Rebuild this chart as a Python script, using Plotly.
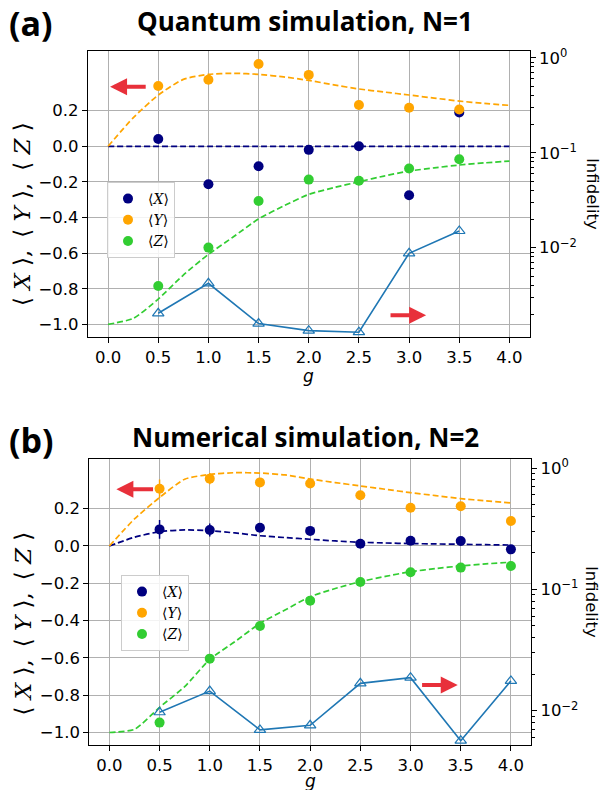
import plotly.graph_objects as go

# ---------------- data ----------------
g_theory = [0.0, 0.25, 0.5, 0.75, 1.0, 1.25, 1.5, 1.75, 2.0, 2.25, 2.5, 2.75, 3.0, 3.25, 3.5, 3.75, 4.0]

# panel (a): quantum simulation, N=1
g_a = [0.5, 1.0, 1.5, 2.0, 2.5, 3.0, 3.5]
X_a = [0.041, -0.213, -0.112, -0.020, 0.0, -0.275, 0.190]
Y_a = [0.339, 0.374, 0.462, 0.401, 0.232, 0.217, 0.207]
Z_a = [-0.785, -0.569, -0.307, -0.187, -0.193, -0.125, -0.073]
Inf_a = [0.00204, 0.00422, 0.00159, 0.00134, 0.00129, 0.00873, 0.0150]
Xth_a = [0.0, 0.0, 0.0, 0.0, 0.0, 0.0, 0.0, 0.0, 0.0, 0.0, 0.0, 0.0, 0.0, 0.0, 0.0, 0.0, 0.0]
Yth_a = [0.0, 0.16, 0.288, 0.376, 0.404, 0.41, 0.404, 0.39, 0.37, 0.345, 0.322, 0.305, 0.288, 0.271, 0.254, 0.241, 0.230]
Zth_a = [-1.0, -0.967, -0.858, -0.723, -0.607, -0.508, -0.408, -0.335, -0.270, -0.232, -0.199, -0.167,
         -0.139, -0.121, -0.105, -0.093, -0.083]

# panel (b): numerical simulation, N=2
g_b = [0.5, 1.0, 1.5, 2.0, 2.5, 3.0, 3.5, 4.0]
X_b = [0.089, 0.086, 0.098, 0.081, 0.012, 0.028, 0.027, -0.018]
Y_b = [0.307, 0.361, 0.341, 0.335, 0.272, 0.205, 0.213, 0.134]
Z_b = [-0.947, -0.604, -0.429, -0.293, -0.193, -0.141, -0.116, -0.107]
Xerr_b = [0.05, 0.035, 0.02, 0.015, 0.01, 0.01, 0.01, 0.01]
Yerr_b = [0.05, 0.03, 0.015, 0.015, 0.01, 0.01, 0.01, 0.01]
Zerr_b = [0.012, 0.01, 0.01, 0.01, 0.01, 0.01, 0.01, 0.01]
Inf_b = [0.0097, 0.0145, 0.00694, 0.00757, 0.0168, 0.0187, 0.00566, 0.0176]
Xth_b = [0.0, 0.047, 0.077, 0.086, 0.082, 0.07, 0.055, 0.045, 0.036, 0.027, 0.020, 0.016, 0.013, 0.011,
         0.009, 0.007, 0.005]
Yth_b = [0.0, 0.145, 0.26, 0.358, 0.384, 0.393, 0.391, 0.381, 0.359, 0.340, 0.322, 0.304, 0.286, 0.270,
         0.254, 0.242, 0.231]
Zth_b = [-1.0, -0.983, -0.865, -0.754, -0.608, -0.513, -0.415, -0.343, -0.272, -0.228, -0.191, -0.163,
         -0.138, -0.121, -0.107, -0.096, -0.087]

left_ticks = [-1.0, -0.8, -0.6, -0.4, -0.2, 0.0, 0.2]
left_ticktext = ["\u22121.0", "\u22120.8", "\u22120.6", "\u22120.4", "\u22120.2", "0.0", "0.2"]
x_ticks = [0.0, 0.5, 1.0, 1.5, 2.0, 2.5, 3.0, 3.5, 4.0]
log_major = [1.0, 0.1, 0.01]
log_major_text = ["10<sup>0</sup>", "10<sup>\u22121</sup>", "10<sup>\u22122</sup>"]
log_minor = [k * 10.0 ** e for e in (-3, -2, -1) for k in range(2, 10)]

names = ["\u27e8<i>X</i>\u27e9", "\u27e8<i>Y</i>\u27e9", "\u27e8<i>Z</i>\u27e9"]
colors = ["#000080", "#FFA500", "#32CD32"]
blue = "#1f77b4"
red = "#E8303A"

W, H = 606, 790
TICKFONT = dict(family="DejaVu Sans", size=16.5, color="black")

fig = go.Figure()


def add_panel(xax, yax, yax2, g_pts, pts, errs, g_th, ths, inf, legend):
    xa = "x" if xax == 1 else f"x{xax}"
    ya = "y" if yax == 1 else f"y{yax}"
    ya2 = f"y{yax2}"
    for th, c in zip(ths, colors):
        fig.add_trace(go.Scatter(x=g_th, y=th, mode="lines", xaxis=xa, yaxis=ya,
                                 line=dict(color=c, width=1.7, dash="6px,3px", shape="spline", smoothing=0.6),
                                 showlegend=False, hoverinfo="skip"))
    for i, (p, c, n) in enumerate(zip(pts, colors, names)):
        err = None
        if errs is not None:
            err = dict(type="data", array=errs[i], color=c, thickness=1.5, width=0)
        fig.add_trace(go.Scatter(x=g_pts, y=p, mode="markers", xaxis=xa, yaxis=ya, name=n,
                                 marker=dict(color=c, size=10), error_y=err,
                                 legend=legend, showlegend=True))
    fig.add_trace(go.Scatter(x=g_pts, y=inf, mode="lines+markers", xaxis=xa, yaxis=ya2,
                             line=dict(color=blue, width=1.6),
                             marker=dict(symbol="triangle-up-open", size=10, color=blue, line=dict(width=1.2)),
                             showlegend=False))


add_panel(1, 1, 2, g_a, [X_a, Y_a, Z_a], None, g_theory, [Xth_a, Yth_a, Zth_a], Inf_a, "legend")
add_panel(2, 3, 4, g_b, [X_b, Y_b, Z_b], [Xerr_b, Yerr_b, Zerr_b], g_theory, [Xth_b, Yth_b, Zth_b], Inf_b, "legend2")

xdom_a = [88 / W, 529.5 / W]
xdom_b = [89.3 / W, 531 / W]
ydom_a = [1 - 337 / H, 1 - 50.7 / H]
ydom_b = [1 - 745 / H, 1 - 458.7 / H]

common_x = dict(range=[-0.2, 4.2], tickvals=x_ticks, ticktext=[f"{v:.1f}" for v in x_ticks],
                showgrid=True, gridcolor="#b0b0b0", gridwidth=0.8, zeroline=False,
                showline=True, linecolor="black", linewidth=1.2, mirror=True, automargin=False,
                ticks="outside", ticklen=5, tickcolor="black", tickfont=TICKFONT)
common_yl = dict(tickvals=left_ticks, ticktext=left_ticktext, automargin=False,
                 showgrid=True, gridcolor="#b0b0b0", gridwidth=0.8, zeroline=False,
                 showline=True, linecolor="black", linewidth=1.2,
                 ticks="outside", ticklen=5, tickcolor="black", tickfont=TICKFONT)
common_yr = dict(type="log", side="right", tickvals=log_major, ticktext=log_major_text, automargin=False,
                 showgrid=False, zeroline=False, showline=True, linecolor="black", linewidth=1.2,
                 ticks="outside", ticklen=5, tickcolor="black", tickfont=TICKFONT,
                 minor=dict(tickvals=log_minor, ticks="outside", ticklen=3, tickcolor="black", showgrid=False))

LEGFONT = dict(family="DejaVu Serif", size=14, color="black")
fig.update_layout(
    width=W, height=H, margin=dict(l=0, r=0, t=0, b=0),
    paper_bgcolor="white", plot_bgcolor="white",
    xaxis=dict(domain=xdom_a, anchor="y", **common_x),
    yaxis=dict(domain=ydom_a, anchor="x", range=[-1.071, 0.537], **common_yl),
    yaxis2=dict(overlaying="y", anchor="x", range=[-2.94, 0.074], **common_yr),
    xaxis2=dict(domain=xdom_b, anchor="y3", **common_x),
    yaxis3=dict(domain=ydom_b, anchor="x2", range=[-1.067, 0.468], **common_yl),
    yaxis4=dict(overlaying="y3", anchor="x2", range=[-2.283, 0.077], **common_yr),
    legend=dict(x=107 / W, y=1 - 182 / H, xanchor="left", yanchor="top",
                bgcolor="rgba(255,255,255,0.85)", bordercolor="#cccccc", borderwidth=1,
                font=LEGFONT, tracegroupgap=0, itemwidth=30),
    legend2=dict(x=121 / W, y=1 - 575 / H, xanchor="left", yanchor="top",
                 bgcolor="rgba(255,255,255,0.85)", bordercolor="#cccccc", borderwidth=1,
                 font=LEGFONT, tracegroupgap=0, itemwidth=30),
)

ann = []
TITLEF = dict(family="Open Sans", size=26, color="black", weight="bold")
LABF = dict(family="Open Sans", size=34, color="black", weight="bold")
for (lab, title, ymid_lab, ymid_title) in [("(a)", "Quantum simulation, N=1", 23, 21),
                                          ("(b)", "Numerical simulation, N=2", 440, 437)]:
    ann.append(dict(text=lab, x=31 / W, y=1 - ymid_lab / H, xref="paper", yref="paper",
                    xanchor="center", yanchor="middle", showarrow=False, font=LABF))
    ann.append(dict(text=title, x=305 / W, y=1 - ymid_title / H, xref="paper", yref="paper",
                    xanchor="center", yanchor="middle", showarrow=False, font=TITLEF))

ylab = ("\u27e8 <i>X</i> \u27e9,\u2009 \u27e8 <i>Y</i> \u27e9,\u2009 \u27e8 <i>Z</i> \u27e9")
for ymid in (214, 623.5):
    ann.append(dict(text=ylab, x=22 / W, y=1 - ymid / H, xref="paper", yref="paper",
                    xanchor="center", yanchor="middle", showarrow=False, textangle=-90,
                    font=dict(family="DejaVu Serif", size=23, color="black")))
for ymid in (194, 602):
    ann.append(dict(text="Infidelity", x=592 / W, y=1 - ymid / H, xref="paper", yref="paper",
                    xanchor="center", yanchor="middle", showarrow=False, textangle=90,
                    font=dict(family="DejaVu Sans", size=16.5, color="black")))
for xmid, ymid in ((308, 376), (310, 781)):
    ann.append(dict(text="<i>g</i>", x=xmid / W, y=1 - ymid / H, xref="paper", yref="paper",
                    xanchor="center", yanchor="middle", showarrow=False,
                    font=dict(family="DejaVu Sans", size=17, color="black")))

arrows = [("x", "y", 0.02, 0.335, 0.39, 0.335),
          ("x", "y", 3.17, -0.949, 2.80, -0.949),
          ("x2", "y3", 0.07, 0.304, 0.45, 0.304),
          ("x2", "y3", 3.47, -0.745, 3.10, -0.745)]
for xr, yr, xt, yt, xs, ys in arrows:
    ann.append(dict(x=xt, y=yt, ax=xs, ay=ys, xref=xr, yref=yr, axref=xr, ayref=yr,
                    showarrow=True, arrowhead=2, arrowsize=0.85, arrowwidth=4, arrowcolor=red,
                    text=""))

fig.update_layout(annotations=ann)
fig.write_html("out.html", config={"displayModeBar": False},
               post_script="document.body.style.margin='0px';document.body.style.padding='0px';")
